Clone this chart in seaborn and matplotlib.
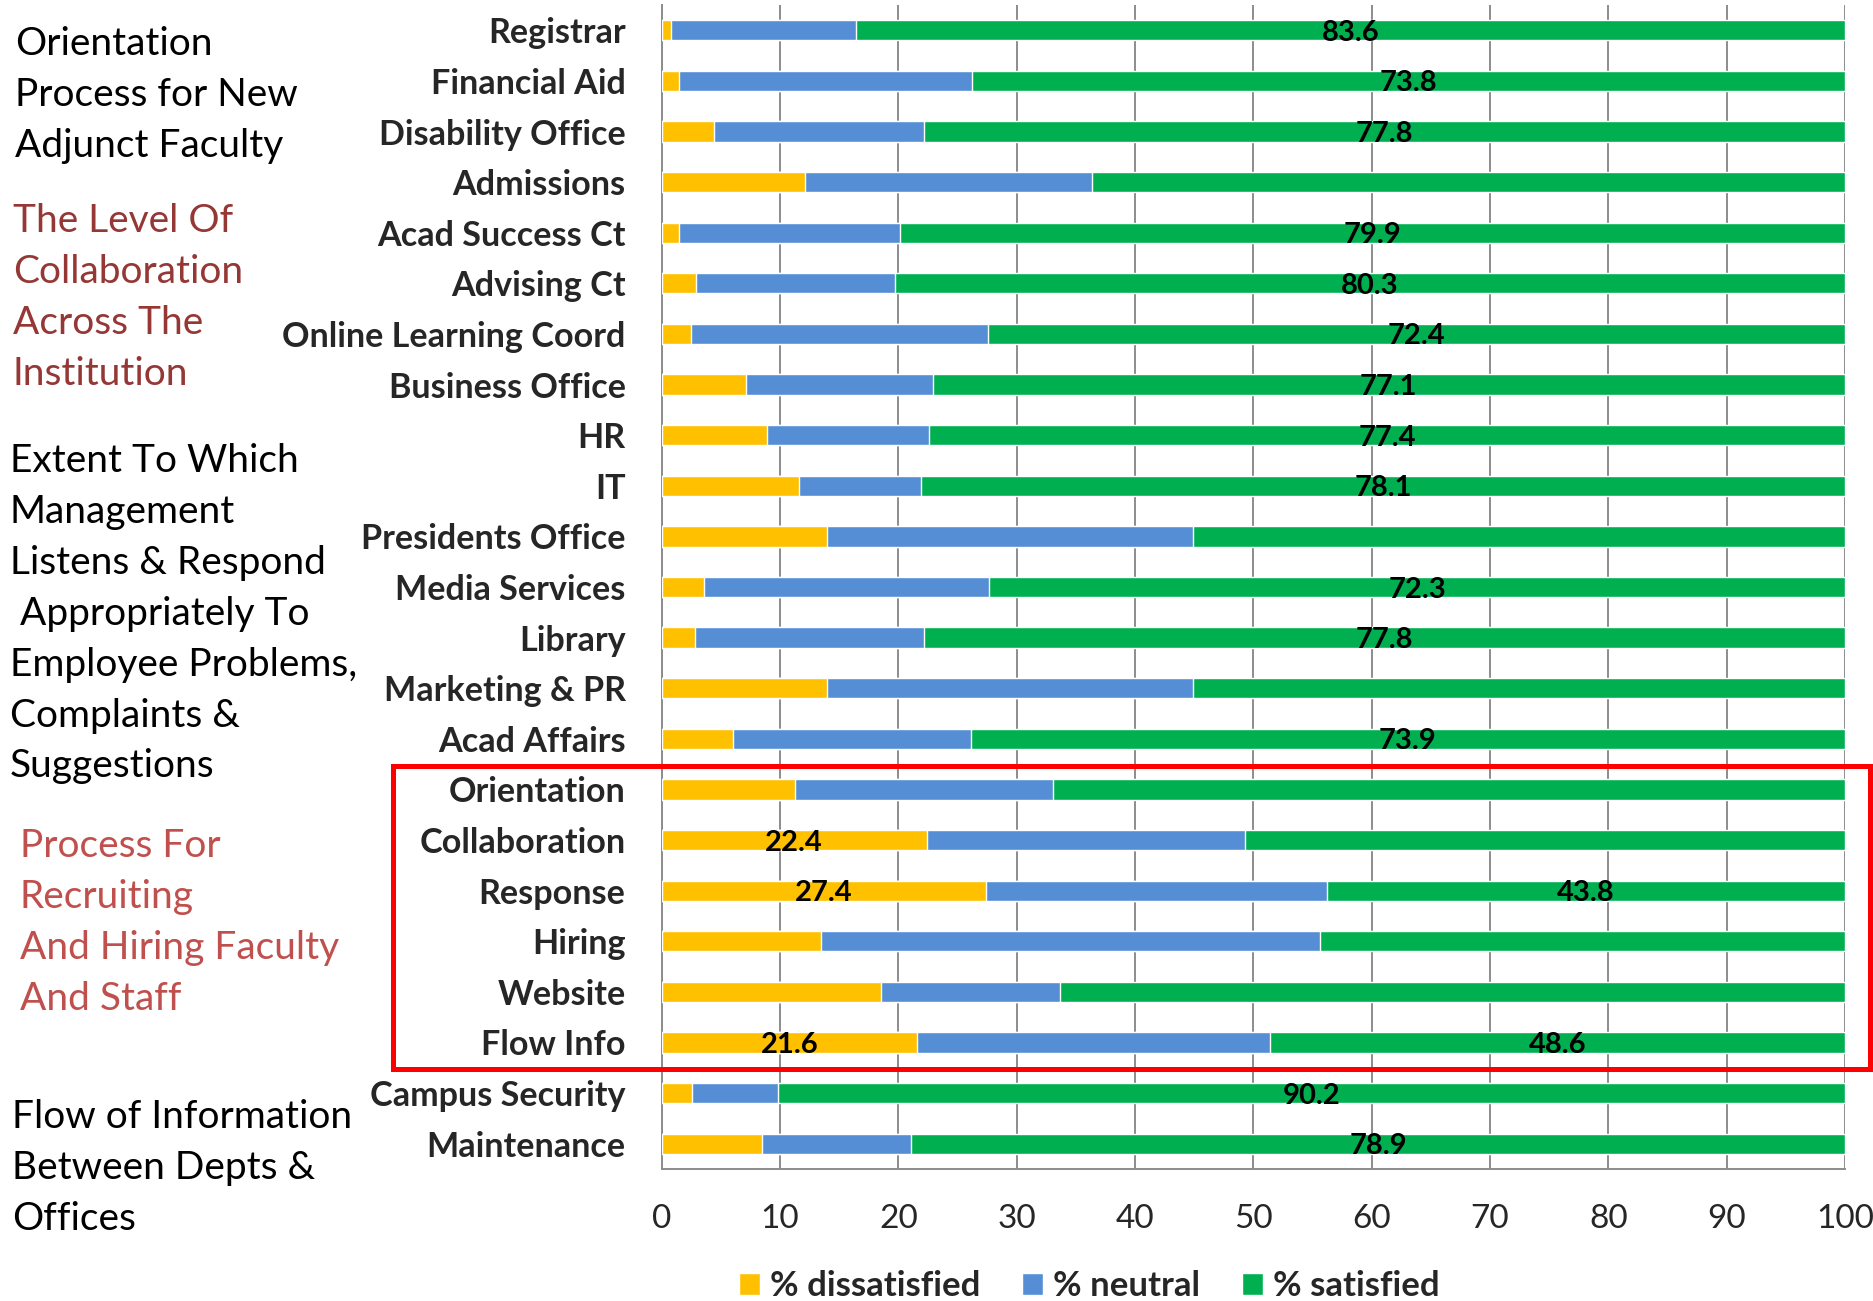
import matplotlib
matplotlib.use("Agg")
import matplotlib.pyplot as plt
from matplotlib.patches import Rectangle
import seaborn as sns
import pandas as pd
import numpy as np

# ---------------- data ----------------
categories = ["Registrar", "Financial Aid", "Disability Office", "Admissions",
              "Acad Success Ct", "Advising Ct", "Online Learning Coord",
              "Business Office", "HR", "IT", "Presidents Office", "Media Services",
              "Library", "Marketing & PR", "Acad Affairs", "Orientation",
              "Collaboration", "Response", "Hiring", "Website", "Flow Info",
              "Campus Security", "Maintenance"]
dissatisfied = [0.8, 1.5, 4.4, 12.1, 1.5, 2.9, 2.5, 7.1, 8.9, 11.6, 14.0, 3.6,
                2.8, 14.0, 6.0, 11.3, 22.4, 27.4, 13.5, 18.5, 21.6, 2.6, 8.5]
neutral = [15.6, 24.7, 17.8, 24.3, 18.6, 16.8, 25.1, 15.8, 13.7, 10.3, 30.9, 24.1,
           19.4, 30.9, 20.1, 21.8, 26.9, 28.8, 42.1, 15.2, 29.8, 7.2, 12.6]
satisfied = [83.6, 73.8, 77.8, 63.6, 79.9, 80.3, 72.4, 77.1, 77.4, 78.1, 55.1, 72.3,
             77.8, 55.1, 73.9, 66.9, 50.7, 43.8, 44.4, 66.3, 48.6, 90.2, 78.9]
series_names = ["% dissatisfied", "% neutral", "% satisfied"]
xticks = [0, 10, 20, 30, 40, 50, 60, 70, 80, 90, 100]

# categories whose values are printed on the chart
labelled_satisfied = ["Registrar", "Financial Aid", "Disability Office", "Acad Success Ct",
                      "Advising Ct", "Online Learning Coord", "Business Office", "HR", "IT",
                      "Media Services", "Library", "Acad Affairs", "Response", "Flow Info",
                      "Campus Security", "Maintenance"]
labelled_dissatisfied = ["Collaboration", "Response", "Flow Info"]

side_notes = [
    (["Orientation", "Process for New", "Adjunct Faculty"], "black"),
    (["The Level Of", "Collaboration", "Across The", "Institution"], "#953735"),
    (["Extent To Which", "Management", "Listens & Respond", " Appropriately To",
      "Employee Problems,", "Complaints &", "Suggestions"], "black"),
    (["Process For", "Recruiting", "And Hiring Faculty", "And Staff"], "#C0504D"),
    (["Flow of Information", "Between Depts &", "Offices"], "black"),
]

# ---------------- style ----------------
C_DIS = "#FFC000"
C_NEU = "#558ED5"
C_SAT = "#00B050"
GRID = "#8C8C8C"

sns.set_style("white")
plt.rcParams["font.family"] = ["Lato", "DejaVu Sans"]

W, H = 1874, 1301
fig = plt.figure(figsize=(W / 100, H / 100), dpi=100)
ax_left, ax_right, ax_top, ax_bot = 661.7, 1845, 5, 1169
ax = fig.add_axes([ax_left / W, 1 - ax_bot / H, (ax_right - ax_left) / W, (ax_bot - ax_top) / H])

df = pd.DataFrame({"category": categories, "dis": dissatisfied,
                   "neu": neutral, "sat": satisfied})
df["cum_neu"] = df["dis"] + df["neu"]
df["cum_sat"] = df["cum_neu"] + df["sat"]

sns.barplot(data=df, y="category", x="cum_sat", color=C_SAT, saturation=1,
            width=0.4, orient="h", ax=ax, label=series_names[2], zorder=3)
sns.barplot(data=df, y="category", x="cum_neu", color=C_NEU, saturation=1,
            width=0.4, orient="h", ax=ax, label=series_names[1], zorder=3)
sns.barplot(data=df, y="category", x="dis", color=C_DIS, saturation=1,
            width=0.4, orient="h", ax=ax, label=series_names[0], zorder=3)

ax.set_xlim(0, 100)
ax.set_ylim(len(categories) - 0.5, -0.5)
ax.set_xlabel("")
ax.set_ylabel("")

# grid & spines
ax.set_xticks(xticks)
ax.xaxis.grid(True, color=GRID, linewidth=1.4, zorder=0)
ax.yaxis.grid(False)
ax.set_axisbelow(True)
for s in ["top", "right"]:
    ax.spines[s].set_visible(False)
for s in ["left", "bottom"]:
    ax.spines[s].set_color(GRID)
    ax.spines[s].set_linewidth(1.4)

ax.tick_params(axis="x", length=8, width=1.4, color=GRID, direction="out",
               labelsize=24, pad=17)
ax.tick_params(axis="y", which="major", length=0, pad=26, labelsize=24.6)
for lab in ax.get_yticklabels():
    lab.set_fontweight("bold")
ax.set_yticks(np.arange(-0.5, len(categories), 1.0), minor=True)
ax.tick_params(axis="y", which="minor", length=8, width=1.4, color=GRID, direction="out")

# value labels
for i, cat in enumerate(categories):
    if cat in labelled_satisfied:
        xc = df.loc[i, "cum_neu"] + df.loc[i, "sat"] / 2
        ax.text(xc, i + 0.05, f"{satisfied[i]:.1f}", ha="center", va="center",
                fontsize=21, fontweight="bold", color="black", zorder=5)
    if cat in labelled_dissatisfied:
        xc = df.loc[i, "dis"] / 2
        ax.text(xc, i + 0.05, f"{dissatisfied[i]:.1f}", ha="center", va="center",
                fontsize=21, fontweight="bold", color="black", zorder=5)

# legend
handles, labels = ax.get_legend_handles_labels()
order = [labels.index(n) for n in series_names]
leg = fig.legend([handles[k] for k in order], [labels[k] for k in order],
                 loc="center", bbox_to_anchor=(1089.5 / W, 1 - 1286 / H),
                 ncol=3, frameon=False, handlelength=0.6, handleheight=0.6,
                 handletextpad=0.3, columnspacing=1.2,
                 prop={"size": 25, "weight": "bold"})
if ax.get_legend() is not None:
    ax.get_legend().remove()

# side notes
starts = [(15, 44), (13, 221), (10, 461), (20, 846), (12, 1117)]
for (lines, col), (x0, y0) in zip(side_notes, starts):
    for k, line in enumerate(lines):
        fig.text(x0 / W, 1 - (y0 + k * 50.9) / H, line, ha="left", va="center",
                 fontsize=28, color=col)

# red highlight box
fig.add_artist(Rectangle((393 / W, 1 - 1069 / H), (1870 - 393) / W, (1069 - 766) / H,
                         transform=fig.transFigure, fill=False, edgecolor="#FF0000",
                         linewidth=3.6, zorder=10, clip_on=False))

fig.savefig("out.png", dpi=100)
